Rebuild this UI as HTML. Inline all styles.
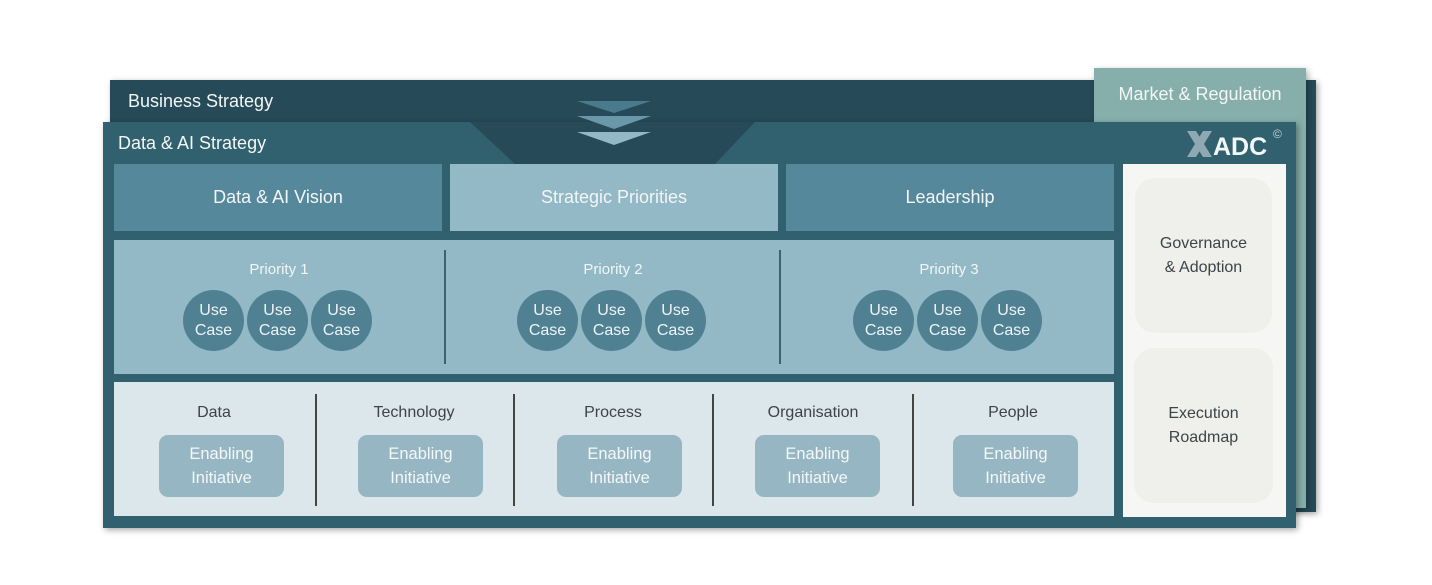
<!DOCTYPE html>
<html><head><meta charset="utf-8"><style>
body{margin:0;width:1432px;height:585px;background:#fff;position:relative;overflow:hidden;font-family:"Liberation Sans",sans-serif}
.a{position:absolute;box-sizing:border-box}
.c{display:flex;align-items:center;justify-content:center;text-align:center}
.w{color:#f2f6f7}
.d{color:#3d4448}
.circ{position:absolute;width:61px;height:61px;border-radius:50%;background:#4f8193;color:#eef4f6;font-size:16px;line-height:20px;display:flex;align-items:center;justify-content:center;text-align:center}
.en{position:absolute;width:125px;height:62px;top:435px;border-radius:9px;background:#97b6c3;color:#f4f8f9;font-size:16.5px;line-height:24px;display:flex;align-items:center;justify-content:center;text-align:center}
.lab{position:absolute;top:404px;width:160px;text-align:center;font-size:16px;color:#3d4448}
.vd{position:absolute;width:2px;background:#444}
</style></head><body>
<div class="a" style="left:110px;top:80px;width:1206px;height:432px;background:#264a57;box-shadow:2px 2px 6px rgba(0,0,0,.35)"></div>
<div class="a w" style="left:128px;top:91px;font-size:18px">Business Strategy</div>
<div class="a" style="left:1094px;top:68px;width:212px;height:440px;background:#86aeab;box-shadow:2px 2px 6px rgba(0,0,0,.3)"></div>
<div class="a w" style="left:1094px;top:84px;width:212px;text-align:center;font-size:18px">Market &amp; Regulation</div>
<div class="a" style="left:103px;top:122px;width:1193px;height:406px;background:#31606e;box-shadow:2px 2px 6px rgba(0,0,0,.35)"></div>
<svg class="a" style="left:0;top:0" width="1432" height="585">
<polygon points="470,122 755,122 715,164 515,164" fill="#264a57"/>
<polygon points="577,101 651,101 614,113" fill="#4a7b8c"/>
<polygon points="577,116 651,116 614,129" fill="#6b98a8"/>
<polygon points="577,132 651,132 614,145" fill="#93b8c6"/>
<g fill="#8fa9b2"><polygon points="1187,131 1196,131 1212,157 1203,157"/><polygon points="1203,131 1212,131 1196,157 1187,157"/></g>
<text x="1213" y="155" font-family="Liberation Sans" font-weight="bold" font-size="25" fill="#f4f7f8">ADC</text>
<text x="1273" y="138" font-family="Liberation Sans" font-size="12" fill="#c8d6da">©</text>
</svg>
<div class="a w" style="left:118px;top:133px;font-size:18px">Data &amp; AI Strategy</div>
<div class="a c w" style="left:114px;top:164px;width:328px;height:67px;background:#56889b;font-size:18px">Data &amp; AI Vision</div>
<div class="a c w" style="left:450px;top:164px;width:328px;height:67px;background:#93b8c6;font-size:18px">Strategic Priorities</div>
<div class="a c w" style="left:786px;top:164px;width:328px;height:67px;background:#56889b;font-size:18px">Leadership</div>
<div class="a" style="left:114px;top:240px;width:1000px;height:134px;background:#93b8c6"></div>
<div class="vd" style="left:444px;top:250px;height:114px;background:#3c6270"></div>
<div class="vd" style="left:779px;top:250px;height:114px;background:#3c6270"></div>
<div class="a w" style="left:179px;top:261px;width:200px;text-align:center;font-size:15px">Priority 1</div>
<div class="a w" style="left:513px;top:261px;width:200px;text-align:center;font-size:15px">Priority 2</div>
<div class="a w" style="left:849px;top:261px;width:200px;text-align:center;font-size:15px">Priority 3</div>
<div class="circ" style="left:183px;top:290px">Use<br>Case</div>
<div class="circ" style="left:247px;top:290px">Use<br>Case</div>
<div class="circ" style="left:311px;top:290px">Use<br>Case</div>
<div class="circ" style="left:517px;top:290px">Use<br>Case</div>
<div class="circ" style="left:581px;top:290px">Use<br>Case</div>
<div class="circ" style="left:645px;top:290px">Use<br>Case</div>
<div class="circ" style="left:853px;top:290px">Use<br>Case</div>
<div class="circ" style="left:917px;top:290px">Use<br>Case</div>
<div class="circ" style="left:981px;top:290px">Use<br>Case</div>
<div class="a" style="left:114px;top:382px;width:1000px;height:134px;background:#dbe7eb"></div>
<div class="vd" style="left:315px;top:394px;height:112px"></div>
<div class="vd" style="left:513px;top:394px;height:112px"></div>
<div class="vd" style="left:712px;top:394px;height:112px"></div>
<div class="vd" style="left:912px;top:394px;height:112px"></div>
<div class="lab" style="left:134px">Data</div>
<div class="lab" style="left:334px">Technology</div>
<div class="lab" style="left:533px">Process</div>
<div class="lab" style="left:733px">Organisation</div>
<div class="lab" style="left:933px">People</div>
<div class="en" style="left:159px">Enabling<br>Initiative</div>
<div class="en" style="left:358px">Enabling<br>Initiative</div>
<div class="en" style="left:557px">Enabling<br>Initiative</div>
<div class="en" style="left:755px">Enabling<br>Initiative</div>
<div class="en" style="left:953px">Enabling<br>Initiative</div>
<div class="a" style="left:1123px;top:164px;width:163px;height:353px;background:#f6f7f4"></div>
<div class="a c d" style="left:1135px;top:178px;width:137px;height:155px;background:#efefeb;border-radius:20px;font-size:16px;line-height:24px">Governance<br>&amp; Adoption</div>
<div class="a c d" style="left:1134px;top:348px;width:139px;height:155px;background:#efefeb;border-radius:20px;font-size:16px;line-height:24px">Execution<br>Roadmap</div>
</body></html>
